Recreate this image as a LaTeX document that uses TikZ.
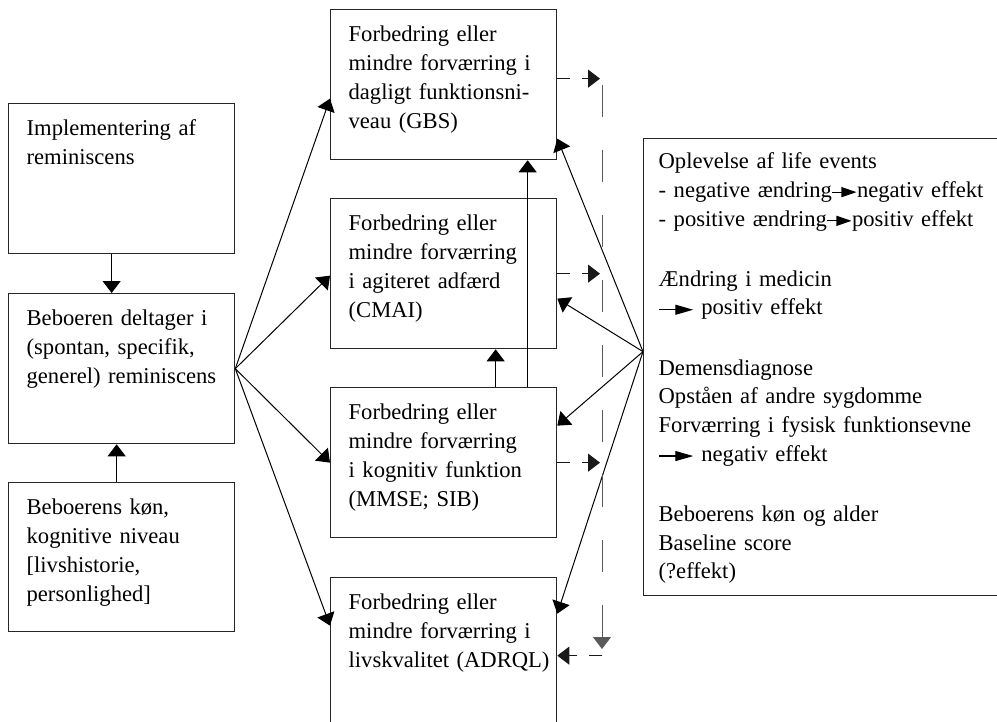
\documentclass[tikz,border=0pt]{standalone}
\usepackage{fontspec}
\setmainfont{Liberation Serif}
\usetikzlibrary{arrows.meta,positioning}

\tikzset{
  block/.style={draw=black!85, line width=0.65pt, anchor=north west, align=left,
    inner xsep=2.5pt, inner ysep=0pt, text height=16pt, text width=108pt,
    execute at begin node={\leftskip=6.5pt\relax},
    font=\fontsize{11.3}{14.5}\selectfont},
  arr/.style={line width=0.5pt, -{Triangle[length=6pt,width=9pt]}},
  dasharr/.style={arr, draw=black!90, dash pattern=on 6.5pt off 6pt, shorten >=1pt},
}
\newcommand{\effarrow}[2][12pt]{\tikz[baseline=-2.6pt]\draw[line width=0.6pt,-{Triangle[length=#2,width=5pt]}] (0pt,0pt) -- (#1,0pt);}

\begin{document}
\begin{tikzpicture}[x=0.5pt, y=-0.5pt]
    \useasboundingbox (0,0) rectangle (997,722);

    % Left column
    \node[block, text depth=59pt] (imp) at (8,103)
        {Implementering af\\reminiscens};
    \node[block, text depth=59pt] (delt) at (8,293)
        {Beboeren deltager i\\(spontan, specifik,\\generel) reminiscens};
    \node[block, text depth=58.5pt] (kon) at (8,482)
        {Beboerens køn,\\kognitive niveau\\{}[livshistorie,\\personlighed]};

    % Outcomes
    \node[block, text depth=59pt] (gbs) at (330,9)
        {Forbedring eller\\mindre forværring i\\dagligt funktionsni-\\veau (GBS)};
    \node[block, text depth=59pt] (cmai) at (330,198)
        {Forbedring eller\\mindre forværring\\i agiteret adfærd\\(CMAI)};
    \node[block, text depth=59pt] (mmse) at (330,387)
        {Forbedring eller\\mindre forværring\\i kognitiv funktion\\(MMSE; SIB)};
    \node[block, text depth=64pt] (adrql) at (330,577)
        {Forbedring eller\\mindre forværring i\\livskvalitet (ADRQL)};

    % Influencing factors
    \node[block, inner xsep=3.75pt, execute at begin node={\leftskip=3.75pt\relax},
          text width=173.5pt, text height=15pt, text depth=213.5pt,
          font=\fontsize{11.3}{14.35}\selectfont] (events) at (643,138)
        {Oplevelse af life events\\
         - negative ændring\effarrow{7.5pt}negativ effekt\\
         - positive ændring\effarrow{7.5pt}positiv effekt\\[15.75pt]
         Ændring i medicin\\
         \effarrow[17pt]{9pt} positiv effekt\\[15.75pt]
         Demensdiagnose\\
         Opståen af andre sygdomme\\
         Forværring i fysisk funktionsevne\\
         \effarrow[17pt]{9pt} negativ effekt\\[15.75pt]
         Beboerens køn og alder\\
         Baseline score\\
         (?effekt)};

    % Left arrows
    \draw[arr] ([xshift=-5pt]imp.south) -- ([xshift=-5pt]delt.north);
    \draw[arr] ([xshift=-2.5pt]kon.north) -- ([xshift=-2.5pt]delt.south);
    \draw[arr] (delt.east) -- ([yshift=-7pt]gbs.west);
    \draw[arr] (delt.east) -- ([yshift=-1pt]cmai.west);
    \draw[arr] (delt.east) -- (mmse.west);
    \draw[arr] (delt.east) -- ([yshift=16pt]adrql.west);

    % Between outcomes
    \draw[arr] ([xshift=26pt]mmse.north) -- ([xshift=26pt]cmai.south);
    \draw[arr] ([xshift=42pt]mmse.north) -- ([xshift=42pt]gbs.south);

    % From factors
    \coordinate (hub) at ([yshift=7.75pt]events.west);
    \draw[arr] (hub) -- ([yshift=-27pt]gbs.east);
    \draw[arr] (hub) -- ([yshift=-12.5pt]cmai.east);
    \draw[arr] (hub) -- ([yshift=18.5pt]mmse.east);
    \draw[arr] (hub) -- ([yshift=22pt]adrql.east);

    % Dashed feedback
    \coordinate (bustop) at (602,85);
    \coordinate (busend) at (602,649);
    \draw[dasharr, draw=black!65, dash pattern=on 16pt off 16.5pt, shorten >=0pt] (bustop) -- (busend);
    \draw[dasharr] ([yshift=3pt]gbs.east) -- ([yshift=3pt]gbs.east -| bustop);
    \draw[dasharr] (cmai.east) -- (cmai.east -| bustop);
    \draw[dasharr] (mmse.east) -- (mmse.east -| bustop);
    \draw[dasharr, shorten >=0pt] ([yshift=1pt]adrql.east -| bustop) -- ([yshift=1pt]adrql.east);
\end{tikzpicture}
\end{document}
